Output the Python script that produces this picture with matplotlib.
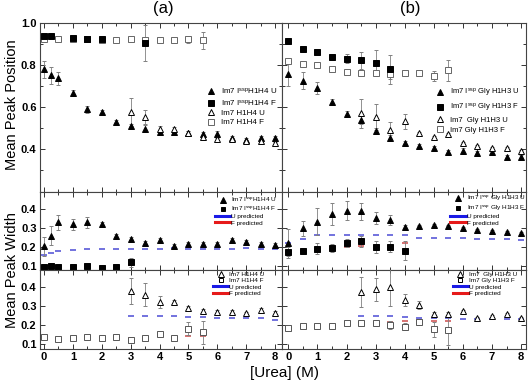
import matplotlib; matplotlib.use("Agg")
import matplotlib.pyplot as plt
from matplotlib.lines import Line2D
from matplotlib.ticker import FormatStrFormatter
import numpy as np

plt.rcParams.update({"font.family": "Liberation Sans", "font.size": 8,
    "mathtext.fontset": "custom", "mathtext.rm": "Liberation Sans",
    "mathtext.it": "Liberation Sans:italic", "mathtext.bf": "Liberation Sans:bold"})
GREY = "#808080"; UBLUE = "#5a5ad8"; FRED = "#d05a5a"

# ---- (a) Im7 H1H4 ----
xa = [0, 0.25, 0.5, 1, 1.5, 2, 2.5, 3, 3.5, 4, 4.5, 5, 5.5, 6, 6.5, 7, 7.5, 8]
pos_a_sspU = [0.78, 0.752, 0.737, 0.668, 0.589, 0.578, 0.53, 0.51, 0.498, 0.482, 0.482, 0.475, 0.47, 0.474, 0.451, 0.442, 0.451, 0.454]
pos_a_sspU_err = [0.04, 0.04, 0.03, 0.015, 0.015, 0.01, 0.01, 0.01, 0.015, 0.01, 0.01, 0.01, 0.01, 0.01, 0.01, 0.01, 0.01, 0.01]
xa_sspF = [0, 0.25, 1, 1.5, 2, 3.5]
pos_a_sspF = [0.94, 0.936, 0.93, 0.926, 0.926, 0.905]
pos_a_sspF_err = [0.005, 0.005, 0.01, 0.01, 0.01, 0.085]
xa_F = [0, 0.5, 1, 1.5, 2, 2.5, 3, 3.5, 4, 4.5, 5, 5.5]
pos_a_F = [0.925, 0.925, 0.925, 0.922, 0.92, 0.917, 0.923, 0.917, 0.917, 0.919, 0.922, 0.918]
pos_a_F_err = [0.008, 0.006, 0.008, 0.006, 0.008, 0.006, 0.01, 0.008, 0.006, 0.006, 0.015, 0.04]
xa_U = [3, 3.5, 4, 4.5, 5, 5.5, 6, 6.5, 7, 7.5, 8]
pos_a_U = [0.577, 0.553, 0.498, 0.494, 0.479, 0.459, 0.448, 0.448, 0.438, 0.438, 0.427]
pos_a_U_err = [0.065, 0.035, 0.01, 0.01, 0.005, 0.005, 0.005, 0.005, 0.005, 0.005, 0.005]

wid_a_sspU = [0.205, 0.26, 0.33, 0.32, 0.33, 0.32, 0.258, 0.245, 0.22, 0.24, 0.205, 0.217, 0.217, 0.217, 0.237, 0.227, 0.218, 0.213]
wid_a_sspU_err = [0.05, 0.05, 0.04, 0.03, 0.03, 0.01, 0.01, 0.01, 0.01, 0.01, 0.01, 0.01, 0.01, 0.01, 0.01, 0.01, 0.01, 0.01]
xa_wF = [0, 0.25, 0.5, 1, 1.5, 2, 2.5, 3]
wid_a_sspF = [0.097, 0.098, 0.097, 0.095, 0.098, 0.09, 0.097, 0.12]
wid_a_sspF_err = [0.005, 0.005, 0.005, 0.005, 0.005, 0.01, 0.01, 0.025]
pred_a_sspU = [0.157, 0.168, 0.182, 0.186, 0.19, 0.192, 0.192, 0.192, 0.192, 0.19, 0.195, 0.19, 0.19, 0.19, 0.188, 0.196, 0.19, 0.19]
pred_a_sspF = [0.097, 0.1, 0.098, 0.097, 0.1, 0.097, 0.1, 0.105]

wid_a_U = [0.38, 0.36, 0.32, 0.32, 0.29, 0.275, 0.27, 0.27, 0.26, 0.278, 0.264]
wid_a_U_err = [0.07, 0.06, 0.03, 0.01, 0.01, 0.01, 0.01, 0.01, 0.01, 0.01, 0.01]
wid_a_F = [0.135, 0.125, 0.13, 0.135, 0.13, 0.135, 0.12, 0.13, 0.15, 0.13, 0.18, 0.16]
wid_a_F_err = [0.005, 0.005, 0.005, 0.005, 0.005, 0.005, 0.005, 0.005, 0.01, 0.005, 0.035, 0.06]
pred_a_U = [0.245, 0.245, 0.245, 0.245, 0.243, 0.24, 0.238, 0.235, 0.235, 0.235, 0.228]
pred_a_F = [0.135, 0.128, 0.13, 0.135, 0.13, 0.135, 0.13, 0.13, 0.14, 0.13, 0.14, 0.14]

# ---- (b) Im7 Gly H1H3 ----
xb = [0, 0.5, 1, 1.5, 2, 2.5, 3, 3.5, 4, 4.5, 5, 5.5, 6, 6.5, 7, 7.5, 8]
pos_b_sspU = [0.755, 0.725, 0.691, 0.625, 0.566, 0.538, 0.486, 0.454, 0.427, 0.414, 0.406, 0.384, 0.39, 0.381, 0.384, 0.364, 0.364]
pos_b_sspU_err = [0.055, 0.04, 0.03, 0.015, 0.015, 0.02, 0.015, 0.015, 0.01, 0.01, 0.01, 0.01, 0.015, 0.01, 0.01, 0.01, 0.01]
xb_sspF = [0, 0.5, 1, 1.5, 2, 2.5, 3, 3.5]
pos_b_sspF = [0.914, 0.878, 0.862, 0.836, 0.831, 0.823, 0.812, 0.78]
pos_b_sspF_err = [0.005, 0.005, 0.005, 0.01, 0.02, 0.04, 0.06, 0.07]
xb_F = [0, 0.5, 1, 1.5, 2, 2.5, 3, 3.5, 4, 4.5, 5, 5.5]
pos_b_F = [0.82, 0.807, 0.80, 0.783, 0.767, 0.76, 0.76, 0.758, 0.76, 0.76, 0.747, 0.775]
pos_b_F_err = [0.01, 0.008, 0.008, 0.005, 0.008, 0.008, 0.01, 0.025, 0.005, 0.01, 0.025, 0.05]
xb_U = [2.5, 3, 3.5, 4, 4.5, 5, 5.5, 6, 6.5, 7, 7.5, 8]
pos_b_U = [0.57, 0.553, 0.49, 0.533, 0.475, 0.456, 0.47, 0.43, 0.414, 0.406, 0.403, 0.39]
pos_b_U_err = [0.07, 0.06, 0.04, 0.035, 0.005, 0.005, 0.005, 0.005, 0.005, 0.005, 0.005, 0.005]

wid_b_sspU = [0.224, 0.30, 0.335, 0.375, 0.393, 0.388, 0.353, 0.344, 0.305, 0.314, 0.317, 0.314, 0.30, 0.291, 0.286, 0.279, 0.273]
wid_b_sspU_err = [0.07, 0.04, 0.07, 0.06, 0.05, 0.045, 0.03, 0.025, 0.01, 0.005, 0.005, 0.005, 0.005, 0.005, 0.005, 0.005, 0.005]
xb_wF = [0, 0.5, 1, 1.5, 2, 2.5, 3, 3.5, 4]
wid_b_sspF = [0.172, 0.177, 0.191, 0.195, 0.221, 0.23, 0.2, 0.203, 0.182]
wid_b_sspF_err = [0.03, 0.01, 0.03, 0.02, 0.02, 0.03, 0.03, 0.03, 0.05]
pred_b_sspU = [0.22, 0.242, 0.265, 0.265, 0.265, 0.265, 0.265, 0.262, 0.262, 0.25, 0.25, 0.248, 0.248, 0.245, 0.242, 0.242, 0.238]
pred_b_sspF = [0.17, 0.177, 0.185, 0.19, 0.2, 0.205, 0.205, 0.205, 0.22]

wid_b_U = [0.375, 0.388, 0.402, 0.331, 0.305, 0.256, 0.256, 0.273, 0.234, 0.247, 0.256, 0.238]
wid_b_U_err = [0.08, 0.06, 0.1, 0.03, 0.02, 0.01, 0.01, 0.005, 0.005, 0.005, 0.005, 0.005]
wid_b_F = [0.185, 0.194, 0.194, 0.196, 0.211, 0.208, 0.208, 0.199, 0.19, 0.216, 0.176, 0.172]
wid_b_F_err = [0.005, 0.005, 0.005, 0.005, 0.005, 0.005, 0.005, 0.02, 0.02, 0.01, 0.04, 0.08]
pred_b_U = [0.245, 0.245, 0.245, 0.242, 0.238, 0.238, 0.236, 0.233, 0.232, 0.232, 0.23, 0.23]
pred_b_F = [0.185, 0.195, 0.195, 0.197, 0.21, 0.21, 0.21, 0.215, 0.22, 0.225, 0.22, 0.22]

SSP = "I$^{\\rm ssp}$"
LAB_A_TOP = [f"Im7 {SSP}H1H4 U", f"Im7 {SSP}H1H4 F", "Im7 H1H4 U", "Im7 H1H4 F"]
LAB_B_TOP = [f"Im7 {SSP} Gly H1H3 U", f"Im7 {SSP} Gly H1H3 F", "Im7  Gly H1H3 U", "Im7 Gly H1H3 F"]

fig = plt.figure(figsize=(5.28, 3.83), dpi=100)
COLS = [(40, 282), (282, 526)]; ROWS = [(23, 192), (192, 270), (270, 349)]
def mkax(c, r):
    (x0, x1), (y0, y1) = COLS[c], ROWS[r]
    return fig.add_axes([x0/528, 1-y1/383, (x1-x0)/528, (y1-y0)/383])
axs = [[mkax(c, r) for c in range(2)] for r in range(3)]

def pts(ax, x, y, e, m, filled, ms=5, ec="k"):
    ax.errorbar(x, y, yerr=e, fmt=m, ms=ms, mfc=ec if filled else "white", mec=ec, mew=0.7,
                ecolor=GREY, elinewidth=0.6, capsize=1.5, capthick=0.6, zorder=3)
def dash(ax, x, y, c):
    ax.plot(x, y, ls="none", marker="_", ms=4.5, mew=1.2, color=c, zorder=2)
def mark(m, filled, ms=5, ec="k"):
    return Line2D([], [], ls="none", marker=m, ms=ms, mfc=ec if filled else "white", mec=ec, mew=0.7)

# position panels
a, b = axs[0]
pts(a, xa, pos_a_sspU, pos_a_sspU_err, "^", True)
pts(a, xa_F, pos_a_F, pos_a_F_err, "s", False, 4, "#666666")
pts(a, xa_sspF, pos_a_sspF, pos_a_sspF_err, "s", True, 4)
pts(a, xa_U, pos_a_U, pos_a_U_err, "^", False)
pts(b, xb, pos_b_sspU, pos_b_sspU_err, "^", True)
pts(b, xb_F, pos_b_F, pos_b_F_err, "s", False, 4.5, "#666666")
pts(b, xb_sspF, pos_b_sspF, pos_b_sspF_err, "s", True, 4.5)
pts(b, xb_U, pos_b_U, pos_b_U_err, "^", False)
top_h = [mark("^", True), mark("s", True, 4.5), mark("^", False), mark("s", False, 4.5, "#666666")]
a.legend(top_h, LAB_A_TOP, loc="upper left", bbox_to_anchor=(0.69, 0.625), frameon=False, fontsize=5.8,
         borderpad=0, borderaxespad=0, labelspacing=0.2, handlelength=1.0, handletextpad=0.7)
b.legend(top_h, LAB_B_TOP, loc="upper left", bbox_to_anchor=(0.63, 0.62), frameon=False, fontsize=5.5,
         borderpad=0, borderaxespad=0, labelspacing=0.35, handlelength=1.0, handletextpad=0.9)

# width panels
a, b = axs[1]
dash(a, xa, pred_a_sspU, UBLUE); dash(a, xa_wF, pred_a_sspF, FRED)
pts(a, xa, wid_a_sspU, wid_a_sspU_err, "^", True)
pts(a, xa_wF, wid_a_sspF, wid_a_sspF_err, "s", True, 4.5)
dash(b, xb, pred_b_sspU, UBLUE); dash(b, xb_wF, pred_b_sspF, FRED)
pts(b, xb, wid_b_sspU, wid_b_sspU_err, "^", True)
pts(b, xb_wF, wid_b_sspF, wid_b_sspF_err, "s", True, 4.5)

a2, b2 = axs[2]
dash(a2, xa_U, pred_a_U, UBLUE); dash(a2, xa_F, pred_a_F, FRED)
pts(a2, xa_U, wid_a_U, wid_a_U_err, "^", False)
pts(a2, xa_F, wid_a_F, wid_a_F_err, "s", False, 4.5, "#555555")
dash(b2, xb_U, pred_b_U, UBLUE); dash(b2, xb_F, pred_b_F, FRED)
pts(b2, xb_U, wid_b_U, wid_b_U_err, "^", False)
pts(b2, xb_F, wid_b_F, wid_b_F_err, "s", False, 4.5, "#555555")

pred_h = [Line2D([], [], color="#1a1ae6", lw=2.2), Line2D([], [], color="#e61a1a", lw=2.2)]
pred_l = ["U predicted", "F predicted"]
for ax, hs, ls, anc in [
        (a, [mark("^", True, 4), mark("s", True, 3.5)], LAB_A_TOP[:2], (0.723, 0.95)),
        (b, [mark("^", True, 4), mark("s", True, 3.5)], LAB_B_TOP[:2], (0.69, 0.975)),
        (a2, [mark("^", False, 4), mark("s", False, 3.5)], LAB_A_TOP[2:], (0.715, 0.98)),
        (b2, [mark("^", False, 4), mark("s", False, 3.5)], LAB_B_TOP[2:], (0.70, 0.98))]:
    ax.legend(hs + pred_h, ls + pred_l, loc="upper left", bbox_to_anchor=anc, frameon=False, fontsize=4.6,
              borderpad=0, borderaxespad=0, labelspacing=0.12, handlelength=2.4, handletextpad=0.15)

# axes styling
for r, row in enumerate(axs):
    for c, ax in enumerate(row):
        ax.set_xlim((-0.14, 8.24) if c == 0 else (-0.22, 8.17))
        ax.set_xticks(range(9)); ax.set_xticks(np.arange(0.5, 8, 1), minor=True)
        if r == 0:
            ax.set_ylim(0.196, 1.0)
            ax.set_yticks([0.4, 0.6, 0.8, 1.0]); ax.set_yticks([0.3, 0.5, 0.7, 0.9], minor=True)
        else:
            ax.set_ylim((0.079, 0.491) if r == 1 else (0.072, 0.49))
            ax.set_yticks([0.1, 0.2, 0.3, 0.4])
        ax.yaxis.set_major_formatter(FormatStrFormatter("%.1f"))
        ax.tick_params(which="both", direction="in", top=True, right=True, labelsize=8,
                       width=0.7, color="#333333", pad=2.5)
        ax.tick_params(which="major", length=3.5); ax.tick_params(which="minor", length=2)
        ax.tick_params(labelbottom=(r == 2), labelleft=(c == 0))
        for lab in ax.get_xticklabels() + ax.get_yticklabels():
            lab.set_fontweight("bold")
        for s in ax.spines.values():
            s.set_color("#444444"); s.set_linewidth(0.8)

fig.text(163/528, 1-9/383, "(a)", ha="center", va="center", fontsize=12)
fig.text(410/528, 1-9/383, "(b)", ha="center", va="center", fontsize=12)
fig.text(12/528, 1-105/383, "Mean Peak Position", rotation=90, ha="center", va="center", fontsize=10.5)
fig.text(12/528, 1-270/383, "Mean Peak Width", rotation=90, ha="center", va="center", fontsize=10.5)
fig.text(285/528, 1-373/383, "[Urea] (M)", ha="center", va="center", fontsize=11)
fig.savefig("out.png", dpi=100)
